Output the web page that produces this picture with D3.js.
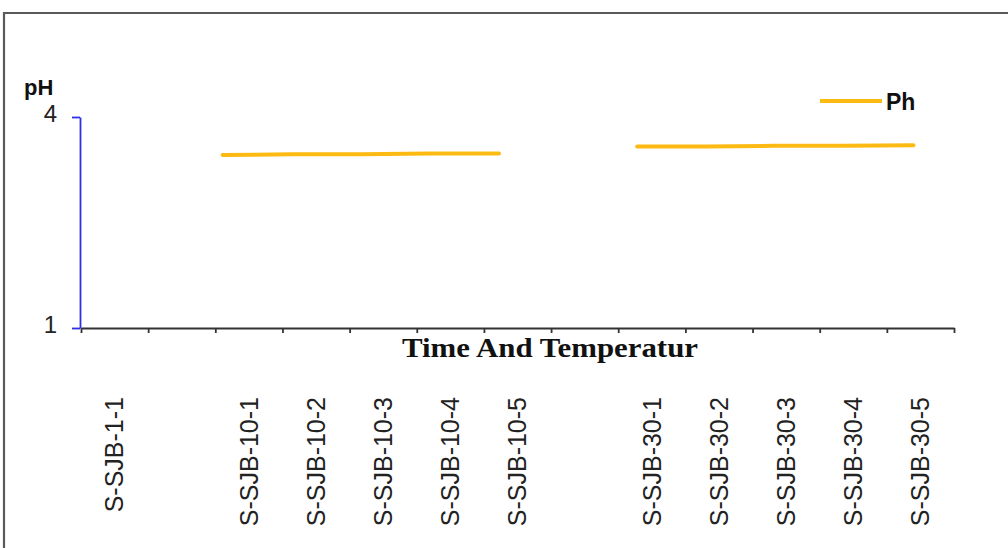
<!DOCTYPE html>
<html>
<head>
<meta charset="utf-8">
<script src="https://cdn.jsdelivr.net/npm/d3@7"></script>
<style>
  html, body { margin: 0; padding: 0; background: #fff; }
  svg { display: block; }
</style>
</head>
<body>
<svg id="chart" width="1008" height="548"></svg>
<script>
// Sample slots along the category axis (empty strings are spacer slots)
const categories = [
  "S-SJB-1-1", "",
  "S-SJB-10-1", "S-SJB-10-2", "S-SJB-10-3", "S-SJB-10-4", "S-SJB-10-5",
  "",
  "S-SJB-30-1", "S-SJB-30-2", "S-SJB-30-3", "S-SJB-30-4", "S-SJB-30-5"
];
// pH readings per slot (null = no reading)
const phValues = [
  null, null,
  3.46, 3.47, 3.47, 3.48, 3.48,
  null,
  3.58, 3.58, 3.59, 3.59, 3.60
];
const yTicks = [1, 4];
const seriesName = "Ph";
const yTitle = "pH";
const xTitle = "Time And Temperatur";

const svg = d3.select("#chart");
const W = 1008, H = 548;

// outer frame (top and left edges visible)
svg.append("path")
  .attr("d", `M4,${H} L4,13 L${W},13`)
  .attr("fill", "none")
  .attr("stroke", "#5a5a5a")
  .attr("stroke-width", 2.2);

const plotLeft = 81, plotRight = 954, plotTop = 117, plotBottom = 328;
const n = categories.length;

// slot-edge scale for the category axis
const xEdge = d3.scaleLinear().domain([0, n]).range([plotLeft, plotRight]);
// series layer scale (plot area of the line series)
const xSeries = d3.scaleLinear().domain([0, n]).range([50, 948]);
const y = d3.scaleLinear().domain([1, 4]).range([plotBottom, plotTop]);

// x axis with tick marks at slot boundaries
const xAxis = d3.axisBottom(xEdge)
  .tickValues(d3.range(0, n + 1))
  .tickFormat("")
  .tickSize(5)
  .tickSizeOuter(0);
const gx = svg.append("g")
  .attr("transform", `translate(0,${plotBottom})`)
  .call(xAxis);
gx.select(".domain").attr("stroke", "#333").attr("stroke-width", 2);
gx.selectAll(".tick line").attr("stroke", "#333").attr("stroke-width", 1.8);

// y axis in blue, ticks only at 1 and 4
const yAxis = d3.axisLeft(y)
  .tickValues(yTicks)
  .tickFormat("")
  .tickSize(8)
  .tickSizeOuter(0);
const gy = svg.append("g")
  .attr("transform", `translate(${plotLeft - 1},0)`)
  .call(yAxis);
gy.select(".domain").attr("stroke", "#2f2fe8").attr("stroke-width", 1.8);
gy.selectAll(".tick line").attr("stroke", "#2f2fe8").attr("stroke-width", 1.8);

// y tick labels
svg.append("g").selectAll("text")
  .data(yTicks)
  .join("text")
  .attr("x", 57)
  .attr("y", d => y(d) - 3)
  .attr("dy", "0.35em")
  .attr("text-anchor", "end")
  .attr("font-family", "Liberation Sans, Arial, sans-serif")
  .attr("font-size", 24)
  .attr("fill", "#222")
  .text(d => d);

// y title
svg.append("text")
  .attr("x", 24)
  .attr("y", 95)
  .attr("font-family", "Liberation Sans, Arial, sans-serif")
  .attr("font-weight", "bold")
  .attr("font-size", 22)
  .attr("fill", "#111")
  .text(yTitle);

// x title
svg.append("text")
  .attr("x", 550)
  .attr("y", 357)
  .attr("text-anchor", "middle")
  .attr("font-family", "Liberation Serif, 'Times New Roman', serif")
  .attr("font-weight", "bold")
  .attr("font-size", 27)
  .attr("textLength", 296)
  .attr("lengthAdjust", "spacingAndGlyphs")
  .attr("fill", "#111")
  .text(xTitle);

// rotated category labels
svg.append("g").selectAll("text")
  .data(categories.map((c, i) => ({ c, i })).filter(d => d.c !== ""))
  .join("text")
  .attr("transform", d => `translate(${xEdge(d.i + 0.5)},397) rotate(-90)`)
  .attr("text-anchor", "end")
  .attr("dy", "0.35em")
  .attr("font-family", "Liberation Sans, Arial, sans-serif")
  .attr("font-size", 25)
  .attr("fill", "#222")
  .text(d => d.c);

// pH series line
const line = d3.line()
  .defined(d => d.v != null)
  .x(d => xSeries(d.i + 0.5))
  .y(d => y(d.v));
svg.append("path")
  .datum(phValues.map((v, i) => ({ v, i })))
  .attr("d", line)
  .attr("fill", "none")
  .attr("stroke", "#FDBA12")
  .attr("stroke-width", 4)
  .attr("stroke-linecap", "round");

// legend
const lg = svg.append("g").attr("transform", "translate(820,101)");
lg.append("line")
  .attr("x1", 0).attr("x2", 62)
  .attr("y1", 0).attr("y2", 0)
  .attr("stroke", "#FDBA12")
  .attr("stroke-width", 4);
lg.append("text")
  .attr("x", 66)
  .attr("y", 1)
  .attr("dy", "0.35em")
  .attr("font-family", "Liberation Sans, Arial, sans-serif")
  .attr("font-weight", "bold")
  .attr("font-size", 23)
  .attr("fill", "#111")
  .text(seriesName);
</script>
</body>
</html>
